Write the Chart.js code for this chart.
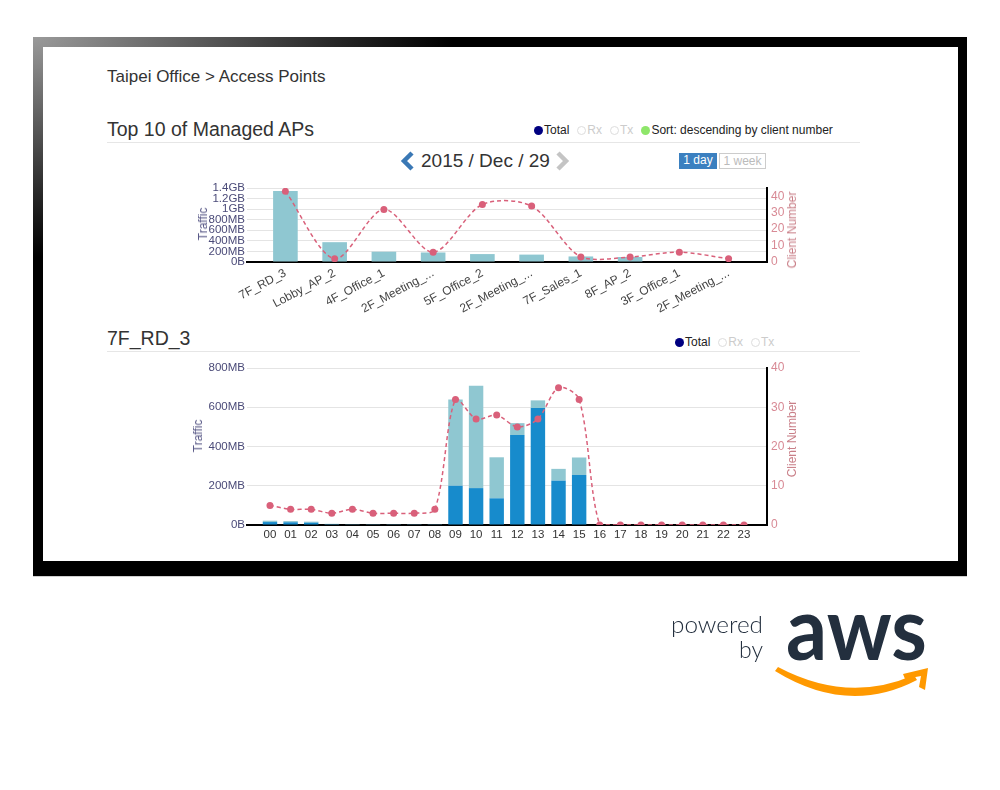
<!DOCTYPE html>
<html>
<head>
<meta charset="utf-8">
<script src="https://cdn.jsdelivr.net/npm/chart.js@4.4.1/dist/chart.umd.min.js"></script>
<style>
  html,body{margin:0;padding:0;background:#fff;}
  body{width:1000px;height:790px;position:relative;overflow:hidden;font-family:"Liberation Sans",Arial,sans-serif;}
  .abs{position:absolute;}
  #frame{left:33px;top:37px;width:934px;height:539px;background:#000;background-image:radial-gradient(ellipse 420px 220px at 0 0,#9a9a9a 0%,#6a6a6a 30%,#2a2a2a 70%,#000 100%);}
  #inner{left:43px;top:47px;width:915px;height:514px;background:#fff;}
  #under{left:33px;top:576px;width:934px;height:1px;background:#d0d0d0;}
  .h1{font-size:17px;color:#333;line-height:20px;white-space:nowrap;}
  .h2{font-size:19.5px;color:#333;line-height:24px;white-space:nowrap;}
  .sep{height:1px;background:#e6e6e6;}
  .legend{font-size:12px;line-height:14px;white-space:nowrap;display:flex;align-items:center;}
  .dot{display:inline-block;width:9px;height:9px;border-radius:50%;margin-right:1px;box-sizing:border-box;}
  .item{display:flex;align-items:center;margin-right:8px;}
  .btn{font-size:12px;line-height:14px;box-sizing:border-box;text-align:center;}
  .vtitle{font-size:12px;line-height:14px;white-space:nowrap;transform:translate(-50%,-50%) rotate(-90deg);}
</style>
</head>
<body>
<div id="frame" class="abs"></div>
<div id="inner" class="abs"></div>
<div id="under" class="abs"></div>

<div class="abs h1" style="left:107px;top:67px;">Taipei Office &gt; Access Points</div>
<div class="abs h2" style="left:107px;top:117px;">Top 10 of Managed APs</div>
<div class="abs sep" style="left:107px;top:142px;width:753px;"></div>
<div class="abs legend" style="left:534px;top:123px;">
  <span class="item"><span class="dot" style="background:#000080;"></span><span style="color:#222;">Total</span></span>
  <span class="item"><span class="dot" style="border:1px solid #ddd;"></span><span style="color:#ccc;">Rx</span></span>
  <span class="item"><span class="dot" style="border:1px solid #ddd;"></span><span style="color:#ccc;">Tx</span></span>
  <span class="item" style="margin-right:0;"><span class="dot" style="background:#8ee66a;"></span><span style="color:#222;">Sort: descending by client number</span></span>
</div>

<svg class="abs" style="left:398px;top:150px;" width="20" height="22"><polyline points="14,3 6,11 14,19" fill="none" stroke="#3a78b5" stroke-width="4.5"/></svg>
<div class="abs" style="left:421px;top:150px;font-size:19px;line-height:22px;color:#333;white-space:nowrap;">2015 / Dec / 29</div>
<svg class="abs" style="left:553px;top:150px;" width="20" height="22"><polyline points="5,3 13,11 5,19" fill="none" stroke="#c4c4c4" stroke-width="4.5"/></svg>

<div class="abs btn" style="left:679px;top:153px;width:38px;height:16px;background:#3b80c0;color:#fff;">1 day</div>
<div class="abs btn" style="left:719px;top:153px;width:47px;height:16px;border:1px solid #ccc;color:#bbb;line-height:14px;">1 week</div>

<div class="abs" style="left:190px;top:175px;width:600px;height:150px;"><canvas id="c1" width="600" height="150"></canvas></div>
<div class="abs vtitle" style="left:203px;top:224px;color:#5a5a88;">Traffic</div>
<div class="abs vtitle" style="left:792px;top:230px;color:#c97f88;">Client Number</div>

<div class="abs h2" style="left:107px;top:326px;">7F_RD_3</div>
<div class="abs sep" style="left:107px;top:351px;width:753px;"></div>
<div class="abs legend" style="left:675px;top:335px;">
  <span class="item"><span class="dot" style="background:#000080;"></span><span style="color:#222;">Total</span></span>
  <span class="item"><span class="dot" style="border:1px solid #ddd;"></span><span style="color:#ccc;">Rx</span></span>
  <span class="item" style="margin-right:0;"><span class="dot" style="border:1px solid #ddd;"></span><span style="color:#ccc;">Tx</span></span>
</div>

<div class="abs" style="left:187px;top:355px;width:603px;height:190px;"><canvas id="c2" width="603" height="190"></canvas></div>
<div class="abs vtitle" style="left:198px;top:436px;color:#5a5a88;">Traffic</div>
<div class="abs vtitle" style="left:792px;top:439px;color:#c97f88;">Client Number</div>

<svg class="abs" style="left:0;top:0;" width="1000" height="790">
  <text x="763" y="633" text-anchor="end" font-family="Lato, 'Open Sans', sans-serif" font-size="23" font-weight="300" fill="#232f3e" textLength="92" lengthAdjust="spacingAndGlyphs">powered</text>
  <text x="763" y="658" text-anchor="end" font-family="Lato, 'Open Sans', sans-serif" font-size="23" font-weight="300" fill="#232f3e">by</text>
  <text x="786" y="660" font-family="Lato, 'DejaVu Sans', sans-serif" font-weight="bold" font-size="88" fill="#232f3e" textLength="141" lengthAdjust="spacingAndGlyphs">aws</text>
  <path d="M775,671 Q848,716 917,680 L914,675 Q848,704 778,667 Z" fill="#ff9900"/>
  <path d="M903,674 L928,668 L925,690 L919,687 L921,676 L905,679 Z" fill="#ff9900"/>
</svg>

<script>
// ---------- DATA ----------
const apLabels = ['7F_RD_3','Lobby_AP_2','4F_Office_1','2F_Meeting_...','5F_Office_2','2F_Meeting_...','7F_Sales_1','8F_AP_2','3F_Office_1','2F_Meeting_...'];
const apTrafficMB = [1345, 375, 195, 180, 150, 140, 105, 95, 0, 0];
const apClients = [43, 2, 32, 6, 35, 34, 3, 3, 6, 2];
const trafficTicksMB = [0, 200, 400, 600, 800, 1000, 1200, 1400];

const hourLabels = ['00','01','02','03','04','05','06','07','08','09','10','11','12','13','14','15','16','17','18','19','20','21','22','23'];
const hourDarkMB  = [15, 14, 12, 4, 2, 2, 2, 2, 2, 200, 188, 136, 458, 596, 226, 255, 0, 0, 0, 0, 0, 0, 0, 0];
const hourLightMB = [7, 6, 5, 2, 1, 1, 1, 1, 1, 440, 522, 209, 61, 39, 60, 89, 0, 0, 0, 0, 0, 0, 0, 0];
const hourClients = [5, 4, 4, 3, 4, 3, 3, 3, 4, 32, 27, 28, 25, 27, 35, 32, 0, 0, 0, 0, 0, 0, 0, 0];

// ---------- HELPERS ----------
const FONT = '"Liberation Sans", Arial, sans-serif';
function fmtMB(v){
  if (v === 0) return '0B';
  if (v >= 1000) { const g = v/1000; return (Number.isInteger(g) ? g : g.toFixed(1)) + 'GB'; }
  return v + 'MB';
}
function padCategory(extra){
  return s => { s._startValue -= extra; s._valueRange += 2*extra; };
}
const lineColor = '#d9607a';

// ---------- CHART 1 ----------
new Chart(document.getElementById('c1'), {
  data: {
    labels: apLabels,
    datasets: [
      {type:'line', data: apClients, yAxisID:'y1', borderColor: lineColor, backgroundColor: lineColor,
       borderDash:[4,3], borderWidth:1.5, pointRadius:3.5, pointBorderWidth:0, tension:0.3, order:0},
      {type:'bar', data: apTrafficMB, yAxisID:'y', backgroundColor:'#8fc7d1', barPercentage:0.5, categoryPercentage:1, order:1}
    ]
  },
  options: {
    responsive:false, animation:false, events:[],
    layout:{padding:{top:13,left:0,right:0,bottom:0}},
    plugins:{legend:{display:false}, tooltip:{enabled:false}},
    scales:{
      x:{ offset:true, grid:{display:false, drawTicks:false}, border:{color:'#000', width:2},
          ticks:{maxRotation:28, minRotation:28, autoSkip:false, padding:4, color:'#444', font:{size:12, family:FONT}},
          afterBuildTicks: padCategory(0.28), afterFit: s => { s.height = 63; } },
      y:{ position:'left', min:0, max:1400,
          afterBuildTicks: s => { s.ticks = trafficTicksMB.map(v => ({value:v})); },
          ticks:{autoSkip:false, padding:2, color:'#4a4a78', font:{size:11.5, family:FONT}, callback: v => fmtMB(v)},
          grid:{color:'#e4e4e4', drawTicks:false}, border:{display:false},
          afterFit: s => { s.width = 57; } },
      y1:{ position:'right', min:0, max:45,
          ticks:{stepSize:10, includeBounds:false, autoSkip:false, padding:4, color:'#d88a95', font:{size:12, family:FONT}},
          grid:{display:false, drawTicks:false}, border:{color:'#000', width:2},
          afterFit: s => { s.width = 23; } }
    }
  }
});

// ---------- CHART 2 ----------
new Chart(document.getElementById('c2'), {
  data: {
    labels: hourLabels,
    datasets: [
      {type:'line', data: hourClients, yAxisID:'y1', borderColor: lineColor, backgroundColor: lineColor,
       borderDash:[4,3], borderWidth:1.5, pointRadius:3.5, pointBorderWidth:0, tension:0.3, order:0},
      {type:'bar', data: hourDarkMB, yAxisID:'y', backgroundColor:'#178bcc', barPercentage:0.7, categoryPercentage:1, order:1, stack:'t'},
      {type:'bar', data: hourLightMB, yAxisID:'y', backgroundColor:'#8fc7d1', barPercentage:0.7, categoryPercentage:1, order:1, stack:'t'}
    ]
  },
  options: {
    responsive:false, animation:false, events:[],
    layout:{padding:{top:13,left:0,right:0,bottom:0}},
    plugins:{legend:{display:false}, tooltip:{enabled:false}},
    scales:{
      x:{ offset:true, stacked:true, grid:{display:false, drawTicks:false}, border:{color:'#000', width:2},
          ticks:{maxRotation:0, autoSkip:false, padding:3, color:'#333', font:{size:11.5, family:FONT}},
          afterBuildTicks: padCategory(0.615), afterFit: s => { s.height = 20; } },
      y:{ position:'left', stacked:true, min:0, max:800,
          ticks:{stepSize:200, autoSkip:false, padding:2, color:'#4a4a78', font:{size:11.5, family:FONT}, callback: v => fmtMB(v)},
          grid:{color:'#e4e4e4', drawTicks:false}, border:{display:false},
          afterFit: s => { s.width = 60; } },
      y1:{ position:'right', min:0, max:40,
          ticks:{stepSize:10, autoSkip:false, padding:4, color:'#d88a95', font:{size:12, family:FONT}},
          grid:{display:false, drawTicks:false}, border:{color:'#000', width:2},
          afterFit: s => { s.width = 23; } }
    }
  }
});
</script>
</body>
</html>
